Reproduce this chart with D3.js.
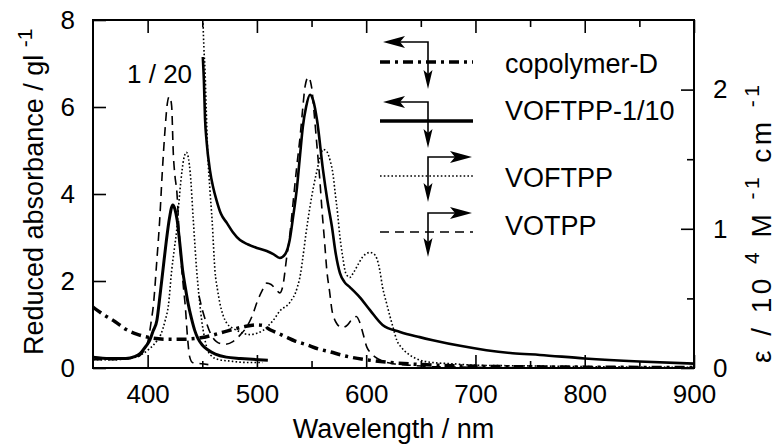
<!DOCTYPE html>
<html><head><meta charset="utf-8">
<script src="https://cdn.jsdelivr.net/npm/d3@7"></script>
<style>
body{margin:0;background:#fff}
text{font-family:"Liberation Sans",Arial,Helvetica,sans-serif;fill:#000}
</style>
</head><body>
<svg id="chart" width="781" height="448"></svg>
<script>
// ---------- tick labels ----------
const wavelengthTicks = [400, 500, 600, 700, 800, 900];
const wavelengthMinorTicks = [450, 550, 650, 750, 850];
const leftTicks = [0, 2, 4, 6, 8];
const rightTicks = [0, 1, 2];
const rightMinorTicks = [0.5, 1.5];

// ---------- series (left axis: reduced absorbance / g l^-1) ----------
const copolymerD_wl  = [350,360,370,380,390,400,410,420,430,440,450,460,470,480,490,500,505,512,520,527,535,546,556,567,580,600,620,650,700,800,900];
const copolymerD_val = [1.40,1.22,1.07,0.89,0.78,0.71,0.67,0.66,0.66,0.67,0.70,0.76,0.83,0.90,0.96,0.99,0.98,0.88,0.79,0.71,0.62,0.53,0.44,0.37,0.28,0.19,0.13,0.08,0.04,0.02,0.01];

const voftpp10_wl  = [450.5,451.5,452.5,454,457,460,463,467,472.6,478,484.5,492,500,509,515,521,526,530,533,536.7,539.5,542,545,548.6,551.5,555,560.5,564.5,568.7,572,576,580,585,594,603.5,615,631,649,661,686,710,734,759,800,850,900];
const voftpp10_val = [7.15,6.6,5.75,5.2,4.55,4.15,3.86,3.55,3.33,3.12,2.94,2.84,2.76,2.69,2.62,2.53,2.62,2.94,3.45,4.16,4.9,5.54,6.0,6.28,6.15,5.70,4.55,3.85,3.24,2.65,2.18,1.98,1.86,1.63,1.33,0.99,0.83,0.71,0.64,0.51,0.41,0.34,0.30,0.22,0.15,0.10];

// Soret band of VOFTPP-1/10 drawn at 1/20
const voftpp10Soret_wl  = [350,365,380,388,393,396,399,402,405,408.5,411,414,417,420,423,425,427,429.5,432,434.5,437,440,443,446,450,455,462,472,485,496,510];
const voftpp10Soret_val = [0.25,0.22,0.22,0.26,0.33,0.42,0.52,0.64,0.85,1.10,1.6,2.25,2.9,3.45,3.75,3.65,3.40,2.85,2.25,1.85,1.49,1.15,0.87,0.68,0.53,0.42,0.32,0.25,0.22,0.20,0.18];

// ---------- series (right axis: epsilon / 10^4 M^-1 cm^-1) ----------
const voftpp_wl  = [450.2,450.7,451.5,452.5,453.7,455,457,459,461.6,464,466,469,472.6,477,481.8,487,493.7,500,505.6,510,514.7,521,530,537,540,542,545,548.6,552,555,558,560.5,563.5,567,569.5,571.6,574,576,578.5,580.6,583,585,588,591.6,597,603.5,607,610,612.5,615,618.5,621.8,625,628,632,637,645,660,680,700,750,800,900];
const voftpp_val = [2.75,2.5,2.3,2.14,1.84,1.54,1.28,1.06,0.70,0.56,0.47,0.38,0.32,0.29,0.27,0.25,0.24,0.25,0.27,0.30,0.34,0.41,0.47,0.58,0.68,0.79,0.97,1.16,1.31,1.42,1.52,1.57,1.56,1.49,1.40,1.26,1.10,0.94,0.80,0.70,0.66,0.65,0.68,0.73,0.80,0.83,0.82,0.78,0.70,0.58,0.47,0.37,0.28,0.20,0.15,0.11,0.07,0.04,0.03,0.02,0.015,0.01,0.005];

const voftppSoret_wl  = [350,370,385,395,402,408,412,416,419,422,424.5,426.7,428.5,430.5,433,435.5,437.5,439,441.8,444.9,447.5,449.5,452,454,458,465,475,490,505];
const voftppSoret_val = [0.06,0.06,0.07,0.10,0.14,0.19,0.24,0.34,0.45,0.70,0.86,1.0,1.18,1.35,1.5,1.55,1.5,1.4,1.06,0.70,0.48,0.34,0.22,0.15,0.09,0.06,0.05,0.04,0.04];

const votpp_wl  = [447,450,454,458,463,470,478,485,491,496,500,505,509,513,517,521,524,527,530,533,536.5,539.5,542,544,547,550,552.5,555,557.5,559.6,562,564,566.5,568.6,571,573,578,583,588,591,594,597,600.6,604,608,615,625,640,660,700,800,900];
const votpp_val = [0.52,0.42,0.32,0.24,0.19,0.17,0.19,0.24,0.30,0.38,0.47,0.56,0.61,0.60,0.57,0.54,0.60,0.78,0.95,1.18,1.45,1.66,1.87,2.02,2.09,2.02,1.82,1.59,1.36,1.13,0.90,0.70,0.55,0.42,0.35,0.32,0.29,0.31,0.36,0.37,0.33,0.25,0.15,0.11,0.08,0.05,0.03,0.02,0.01,0.005,0,0];

const votppSoret_wl  = [350,370,385,393,397,400.5,403,405.5,408.3,411,413.5,416,418,419.8,421,422,423.5,425,426.8,428.5,430.5,432.5,434.5,436.5,438.5,441,450,460];
const votppSoret_val = [0.06,0.06,0.07,0.09,0.13,0.20,0.32,0.47,0.76,1.06,1.42,1.72,1.9,1.95,1.93,1.88,1.54,1.38,1.26,1.02,0.78,0.6,0.44,0.22,0.08,0.04,0.03,0.02];

const legendNames = ["copolymer-D", "VOFTPP-1/10", "VOFTPP", "VOTPP"];

// ---------- layout ----------
const L = 93, R = 694, T = 20, B = 368;
const svg = d3.select("#chart");
const x  = d3.scaleLinear().domain([350, 900]).range([L, R]);
const yL = d3.scaleLinear().domain([0, 8]).range([B, T]);
const yR = d3.scaleLinear().domain([0, 2.5]).range([B, T]);

svg.append("defs").append("clipPath").attr("id", "plotclip")
  .append("rect").attr("x", L).attr("y", T).attr("width", R - L).attr("height", B - T);

const styles = {
  dashdot: {w: 3.5, dash: "10,5,3,5"},
  solid:   {w: 2.6, dash: null},
  solidS:  {w: 3.0, dash: null},
  dotted:  {w: 1.6, dash: "1.6,2.2"},
  dashed:  {w: 1.6, dash: "9,6"}
};

function drawSeries(wl, val, yScale, st) {
  const line = d3.line().x(d => x(d[0])).y(d => yScale(d[1])).curve(d3.curveMonotoneX);
  svg.append("path").datum(d3.zip(wl, val))
    .attr("clip-path", "url(#plotclip)")
    .attr("fill", "none").attr("stroke", "#000")
    .attr("stroke-width", st.w)
    .attr("stroke-dasharray", st.dash)
    .attr("stroke-linejoin", "round")
    .attr("d", line);
}

drawSeries(votppSoret_wl, votppSoret_val, yR, styles.dashed);
drawSeries(votpp_wl, votpp_val, yR, styles.dashed);
drawSeries(voftppSoret_wl, voftppSoret_val, yR, styles.dotted);
drawSeries(voftpp_wl, voftpp_val, yR, styles.dotted);
drawSeries(voftpp10Soret_wl, voftpp10Soret_val, yL, styles.solidS);
drawSeries(voftpp10_wl, voftpp10_val, yL, styles.solid);
drawSeries(copolymerD_wl, copolymerD_val, yL, styles.dashdot);

// ---------- axes ----------
function styleAxis(g) {
  g.select(".domain").remove();
  g.selectAll(".tick line").attr("stroke", "#000").attr("stroke-width", 1.6);
  g.selectAll(".tick text").attr("font-size", 26).attr("font-family", '"Liberation Sans",Arial,sans-serif').attr("fill", "#000");
}
svg.append("g").attr("transform", `translate(0,${B})`)
  .call(d3.axisBottom(x).tickValues(wavelengthTicks).tickSize(-13).tickPadding(17).tickFormat(d3.format("d")))
  .call(styleAxis);
svg.append("g").attr("transform", `translate(0,${B})`)
  .call(d3.axisBottom(x).tickValues(wavelengthMinorTicks).tickSize(-7).tickFormat(""))
  .call(styleAxis);
svg.append("g").attr("transform", `translate(0,${T})`)
  .call(d3.axisTop(x).tickValues(wavelengthTicks).tickSize(-13).tickFormat(""))
  .call(styleAxis);
svg.append("g").attr("transform", `translate(0,${T})`)
  .call(d3.axisTop(x).tickValues(wavelengthMinorTicks).tickSize(-7).tickFormat(""))
  .call(styleAxis);
svg.append("g").attr("transform", `translate(${L},0)`)
  .call(d3.axisLeft(yL).tickValues(leftTicks).tickSize(-13).tickPadding(18).tickFormat(d3.format("d")))
  .call(styleAxis);
svg.append("g").attr("transform", `translate(${R},0)`)
  .call(d3.axisRight(yR).tickValues(rightTicks).tickSize(-13).tickPadding(19).tickFormat(d3.format("d")))
  .call(styleAxis);
svg.append("g").attr("transform", `translate(${R},0)`)
  .call(d3.axisRight(yR).tickValues(rightMinorTicks).tickSize(-7).tickFormat(""))
  .call(styleAxis);

svg.append("rect").attr("x", L).attr("y", T).attr("width", R - L).attr("height", B - T)
  .attr("fill", "none").attr("stroke", "#000").attr("stroke-width", 2);

// ---------- axis titles ----------
svg.append("text").attr("x", (L + R) / 2).attr("y", 438).attr("text-anchor", "middle")
  .attr("font-size", 27).text("Wavelength / nm");

const lt = svg.append("text").attr("transform", "translate(43,355) rotate(-90)")
  .attr("font-size", 27);
lt.append("tspan").text("Reduced absorbance / gl ");
lt.append("tspan").attr("font-size", 21).attr("dy", -11).text("-1");

const rt = svg.append("text").attr("transform", "translate(771,363) rotate(-90)")
  .attr("font-size", 28).attr("textLength", 278).attr("lengthAdjust", "spacing");
rt.append("tspan").text("\u03b5 / 10 ");
rt.append("tspan").attr("font-size", 21).attr("dy", -12).text("4");
rt.append("tspan").attr("dy", 12).text(" M ");
rt.append("tspan").attr("font-size", 21).attr("dy", -12).text("-1");
rt.append("tspan").attr("dy", 12).text(" cm ");
rt.append("tspan").attr("font-size", 21).attr("dy", -12).text("-1");

svg.append("text").attr("x", 127).attr("y", 83).attr("font-size", 26).text("1 / 20");

// ---------- legend ----------
const legendItems = [
  {name: legendNames[0], st: styles.dashdot, lineY: 62,  textY: 73,  arrowY: 42,  arrowEnd: 89,  dir: -1},
  {name: legendNames[1], st: {w: 3.4, dash: null}, lineY: 121, textY: 120, arrowY: 102, arrowEnd: 148, dir: -1},
  {name: legendNames[2], st: styles.dotted, lineY: 176, textY: 187, arrowY: 157, arrowEnd: 202, dir: 1},
  {name: legendNames[3], st: styles.dashed, lineY: 232, textY: 235, arrowY: 213, arrowEnd: 257, dir: 1}
];
const lx0 = 380, lx1 = 473, vx = 428, tx = 505;
legendItems.forEach(it => {
  svg.append("line").attr("x1", lx0).attr("x2", lx1).attr("y1", it.lineY).attr("y2", it.lineY)
    .attr("stroke", "#000").attr("stroke-width", it.st.w).attr("stroke-dasharray", it.st.dash);
  svg.append("text").attr("x", tx).attr("y", it.textY).attr("font-size", 27).text(it.name);
  const hx = it.dir < 0 ? 383 : 472;
  svg.append("path").attr("fill", "none").attr("stroke", "#000").attr("stroke-width", 1.6)
    .attr("d", `M${hx - it.dir * 12},${it.arrowY}H${vx}V${it.arrowEnd - 10}`);
  svg.append("path").attr("fill", "#000")
    .attr("d", `M${hx},${it.arrowY}L${hx - it.dir * 22},${it.arrowY - 6}L${hx - it.dir * 17},${it.arrowY}L${hx - it.dir * 22},${it.arrowY + 6}Z`);
  svg.append("path").attr("fill", "#000")
    .attr("d", `M${vx},${it.arrowEnd}L${vx - 4.5},${it.arrowEnd - 19}L${vx},${it.arrowEnd - 15}L${vx + 4.5},${it.arrowEnd - 19}Z`);
});
</script>
</body></html>
